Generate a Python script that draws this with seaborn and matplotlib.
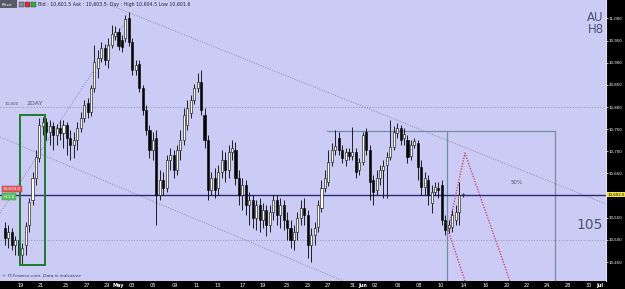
import matplotlib
matplotlib.use("Agg")
import matplotlib.pyplot as plt
import seaborn as sns
import numpy as np
from matplotlib.patches import Rectangle

# ---------------- data ----------------
opens = [10527, 10504, 10518, 10489, 10500, 10466, 10489, 10534, 10590, 10640,
         10685, 10757, 10766, 10744, 10757, 10737, 10753, 10741, 10759, 10730,
         10714, 10726, 10753, 10775, 10809, 10789, 10843, 10888, 10911, 10933,
         10906, 10940, 10960, 10969, 10951, 10956, 11001, 10947, 10884, 10897,
         10843, 10793, 10748, 10703, 10730, 10601, 10635, 10617, 10680, 10692,
         10658, 10703, 10726, 10759, 10786, 10816, 10843, 10856, 10782, 10726,
         10613, 10640, 10617, 10653, 10680, 10658, 10698, 10703, 10640, 10601,
         10624, 10579, 10590, 10549, 10579, 10545, 10568, 10534, 10563, 10590,
         10556, 10579, 10545, 10527, 10500, 10518, 10549, 10572, 10556, 10489,
         10511, 10529, 10572, 10617, 10631, 10676, 10703, 10730, 10703, 10680,
         10698, 10689, 10698, 10658, 10676, 10744, 10703, 10635, 10613, 10640,
         10658, 10669, 10687, 10710, 10741, 10753, 10730, 10726, 10689, 10714,
         10719, 10665, 10619, 10635, 10583, 10608, 10617, 10624, 10545, 10527,
         10529, 10545, 10563, 10601.5]
highs = [10540, 10534, 10527, 10509, 10504, 10493, 10540, 10595, 10653, 10703,
         10775, 10777, 10775, 10771, 10766, 10762, 10771, 10771, 10766, 10748,
         10744, 10766, 10789, 10816, 10820, 10850, 10940, 10929, 10947, 10942,
         10956, 10985, 10983, 10978, 10962, 11008, 11014, 10956, 10906, 10906,
         10850, 10805, 10759, 10744, 10748, 10658, 10653, 10692, 10707, 10703,
         10714, 10748, 10798, 10816, 10827, 10852, 10877, 10884, 10798, 10737,
         10653, 10662, 10669, 10703, 10698, 10714, 10726, 10721, 10658, 10640,
         10635, 10608, 10601, 10590, 10595, 10583, 10579, 10579, 10601, 10601,
         10595, 10590, 10563, 10545, 10534, 10563, 10590, 10595, 10568, 10527,
         10540, 10590, 10635, 10658, 10703, 10719, 10748, 10744, 10714, 10707,
         10707, 10755, 10707, 10685, 10744, 10753, 10714, 10647, 10658, 10669,
         10680, 10698, 10771, 10757, 10764, 10759, 10753, 10737, 10726, 10730,
         10726, 10680, 10653, 10647, 10624, 10631, 10631, 10635, 10556, 10545,
         10568, 10579, 10631, 10606]
lows = [10489, 10482, 10477, 10466, 10450, 10443, 10466, 10518, 10579, 10624,
        10676, 10737, 10726, 10714, 10703, 10714, 10726, 10707, 10692, 10680,
        10685, 10703, 10744, 10766, 10775, 10780, 10834, 10865, 10902, 10895,
        10888, 10933, 10951, 10929, 10924, 10947, 10938, 10872, 10872, 10834,
        10782, 10737, 10685, 10680, 10534, 10590, 10601, 10608, 10658, 10640,
        10647, 10680, 10714, 10748, 10775, 10807, 10834, 10782, 10707, 10590,
        10601, 10595, 10601, 10640, 10631, 10640, 10680, 10624, 10579, 10568,
        10556, 10534, 10527, 10522, 10518, 10527, 10509, 10518, 10545, 10534,
        10527, 10522, 10500, 10482, 10477, 10500, 10534, 10534, 10459, 10450,
        10489, 10518, 10563, 10608, 10622, 10667, 10692, 10692, 10674, 10667,
        10680, 10680, 10640, 10647, 10669, 10692, 10590, 10579, 10601, 10624,
        10595, 10595, 10680, 10703, 10730, 10714, 10714, 10674, 10680, 10707,
        10635, 10601, 10601, 10579, 10561, 10601, 10595, 10534, 10511, 10516,
        10518, 10534, 10534, 10597]
closes = [10504, 10518, 10489, 10500, 10466, 10482, 10531, 10586, 10640, 10687,
          10759, 10766, 10744, 10757, 10737, 10753, 10741, 10759, 10730, 10714,
          10726, 10753, 10775, 10805, 10789, 10843, 10902, 10911, 10933, 10906,
          10940, 10965, 10969, 10938, 10935, 10999, 10947, 10884, 10895, 10843,
          10793, 10748, 10703, 10726, 10601, 10635, 10617, 10680, 10692, 10658,
          10703, 10726, 10782, 10798, 10816, 10843, 10856, 10793, 10726, 10613,
          10640, 10613, 10653, 10680, 10658, 10698, 10707, 10640, 10601, 10624,
          10579, 10590, 10549, 10579, 10545, 10568, 10534, 10563, 10590, 10556,
          10579, 10545, 10527, 10500, 10518, 10549, 10572, 10556, 10489, 10511,
          10527, 10579, 10617, 10640, 10676, 10703, 10712, 10703, 10685, 10698,
          10689, 10698, 10653, 10676, 10737, 10703, 10631, 10608, 10640, 10658,
          10667, 10687, 10710, 10744, 10753, 10726, 10739, 10687, 10714, 10723,
          10665, 10619, 10640, 10601, 10608, 10619, 10613, 10545, 10522, 10534,
          10556, 10563, 10601, 10602.5]

date_labels = ["19", "21", "25", "27", "29", "May", "03", "05", "09", "11", "13",
               "17", "19", "23", "25", "27", "31", "Jun", "02", "06", "08", "10",
               "14", "16", "20", "22", "24", "28", "30", "Jul"]
date_label_bar = [4.6, 10.4, 17.7, 23.8, 29.6, 32.9, 36.8, 42.9, 49.4, 55.8, 61.9,
                  69.2, 75.0, 82.0, 88.1, 93.9, 101.2, 104.1, 107.6, 114.2, 120.4,
                  126.7, 133.4, 139.8, 145.9, 151.7, 157.6, 163.7, 169.8, 173.0]
price_ticks = [10450, 10500, 10550, 10650, 10700, 10750, 10800, 10850,
               10900, 10950, 11000]
last_price = 10602.5
ref_levels = [10800, 10500]

# ---------------- style ----------------
sns.set_theme(style="white")
plt.rcParams["font.family"] = ["DejaVu Sans"]

W, H = 625, 289
fig = plt.figure(figsize=(W / 100, H / 100), dpi=100, facecolor="black")
ax = fig.add_axes([0, 8 / H, 606 / W, 281 / H])
bg = "#cbcbf6"
ax.set_facecolor(bg)

n = len(opens)
x = np.arange(n)
o = np.array(opens); c = np.array(closes); hi = np.array(highs); lo = np.array(lows)
up = c >= o

# reference levels
for lv in ref_levels:
    ax.axhline(lv, color="#9a9ab4", lw=0.8, ls=(0, (1, 1.5)), zorder=1)

# trend / channel lines (dotted)
tl_col = "#8888a8"
ax.plot([29.1, 174.7], [11034.7, 10581], color=tl_col, lw=0.7, ls=(0, (1, 1.5)), zorder=1)
ax.plot([-1.45, 98.3], [10732.3, 10407.3], color=tl_col, lw=0.7, ls=(0, (1, 1.5)), zorder=1)
ax.plot([-1.45, 35.8], [10560.8, 11000.9], color=tl_col, lw=0.7, ls=(0, (1, 1.5)), zorder=1)

# grey box lines
box_col = "#6f8ea2"
ax.plot([93.6, 159.9], [10745.8, 10745.8], color=box_col, lw=0.9, zorder=1)
ax.plot([128.5, 128.5], [10745.8, 10380], color=box_col, lw=0.9, zorder=1)
ax.plot([159.9, 159.9], [10745.8, 10380], color=box_col, lw=0.9, zorder=1)

# last price line
ax.axhline(last_price, color="#28287a", lw=1.0, zorder=2)

# red dotted projection
red = "#d0305a"
ax.plot([133.7, 128.8, 133.7, 146.8], [10407.3, 10522.4, 10696.2, 10407.3],
        color=red, lw=0.9, ls=(0, (1, 1.2)), zorder=2)

# candles
ax.vlines(x, lo, hi, color="black", lw=0.6, zorder=3)
bw = 0.6
body_lo = np.minimum(o, c)
body_h = np.maximum(np.abs(c - o), 1.2)
ax.bar(x[up], body_h[up], bottom=body_lo[up], width=bw, color="white",
       edgecolor="black", linewidth=0.4, zorder=4)
ax.bar(x[~up], body_h[~up], bottom=body_lo[~up], width=bw, color="black",
       edgecolor="black", linewidth=0.4, zorder=4)

# green box
ax.add_patch(Rectangle((4.36, 10443.4), 7.27, 338.6, fill=False,
                       edgecolor="#1d7a2c", lw=1.4, zorder=5))

ax.set_xlim(-1.45, 174.7)
ax.set_ylim(10407.3, 11041.5)

# axes ticks
ax.set_xticks(date_label_bar)
ax.set_xticklabels(date_labels)
for lab in ax.get_xticklabels():
    if lab.get_text() in ("May", "Jun", "Jul"):
        lab.set_fontweight("bold")
ax.tick_params(axis="x", colors="white", labelsize=3.6, length=0, pad=1.5)
ax.yaxis.tick_right()
ax.set_yticks(price_ticks)
ax.set_yticklabels([f"{v:,}" for v in price_ticks])
ax.tick_params(axis="y", colors="white", labelsize=2.9, length=1.5, width=0.5, pad=0.6)
for s in ["top", "left", "bottom"]:
    ax.spines[s].set_visible(False)
ax.spines["right"].set_color("#e0e0f0")
ax.spines["right"].set_linewidth(0.8)
ax.grid(False)

# last price label on axis
ax.text(1.003, last_price, "10,602.5", transform=ax.get_yaxis_transform(),
        fontsize=2.9, color="black", va="center", ha="left", zorder=10,
        bbox=dict(boxstyle="square,pad=0.15", fc="#f2e44a", ec="none"), clip_on=False)

# texts in plot
ax.text(8.7, 10806.8, "2DAY", fontsize=4.6, color="#55556a", ha="center", va="center")
ax.text(2.0, 10806.8, "10,800", fontsize=3.0, color="#55556a", ha="center", va="center")
ax.text(148.8, 10630.7, "50%", fontsize=4.0, color="#55556a", ha="center", va="center")
ax.text(173.8, 10533.7, "105", fontsize=10, color="#50506a", ha="right", va="center")
ax.text(174.0, 11003, "AU", fontsize=8.5, color="#50506e", ha="right", va="center")
ax.text(174.0, 10976, "H8", fontsize=8.5, color="#50506e", ha="right", va="center")
ax.text(-0.6, 10615.5, "10,603.0", fontsize=3.0, color="white", ha="left", va="center",
        bbox=dict(boxstyle="square,pad=0.25", fc="#e05a5a", ec="#b03030", lw=0.3), zorder=6)
ax.text(-0.6, 10598, "+11.6", fontsize=3.0, color="white", ha="left", va="center",
        bbox=dict(boxstyle="square,pad=0.25", fc="#5cc060", ec="#3a9040", lw=0.3), zorder=6)
ax.text(-1.0, 10413, "\u00a9 IT-Finance.com. Data is indicative", fontsize=3.2,
        color="#333344", style="italic", ha="left", va="bottom")

# header strip
fig.patches.append(Rectangle((0, 1 - 8 / H), 17 / W, 8 / H, transform=fig.transFigure,
                             fc="#5a5a66", ec="none", zorder=5))
fig.text(1.5 / W, 1 - 4.5 / H, "Price", fontsize=3.2, color="white", va="center", zorder=6)
for k, col in enumerate(["#8a8a99", "#cc3333", "#33aa44"]):
    fig.patches.append(Rectangle(((19 + 6 * k) / W, 1 - 7 / H), 5 / W, 5.5 / H,
                                 transform=fig.transFigure, fc=col, ec="#333", lw=0.3, zorder=5))
fig.text(38 / W, 1 - 4.5 / H,
         "Bid : 10,601.5 Ask : 10,603.5  Day : High 10,604.5 Low 10,601.6",
         fontsize=3.4, color="#222233", va="center", zorder=6)

fig.savefig("out.png", dpi=100, facecolor="black")
